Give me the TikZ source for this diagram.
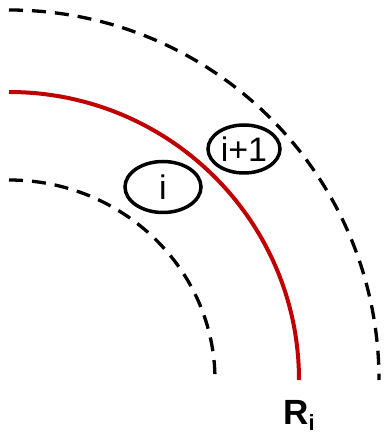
\documentclass[tikz,border=0pt]{standalone}
\usepackage{fontspec}
\setmainfont{Liberation Sans}
\usetikzlibrary{positioning,shapes.geometric}
\definecolor{shellred}{RGB}{192,0,0}

\begin{document}
\begin{tikzpicture}[x=1pt,y=1pt,
    shell/.style={draw=black,line width=3.3pt,dash pattern=on 14pt off 9pt},
    cell/.style={draw,ellipse,line width=3.5pt,inner sep=0pt,font=\fontsize{34}{34}\selectfont}]
  \useasboundingbox (0,0) rectangle (386,434);
  % common centre of the shells
  \coordinate (O) at (9,54);
  \draw[shell] (O) ++(0,200) arc[start angle=90,end angle=0,x radius=206,y radius=200];
  \draw[shell] (O) ++(0,370) arc[start angle=90,end angle=0,radius=370];
  \draw[shellred,line width=4pt] (O) ++(0,288) arc[start angle=90,end angle=0,x radius=290,y radius=288] coordinate (rEnd);
  % the two cells on either side of R_i
  \node[cell,minimum width=76pt,minimum height=51pt] (cellI) at (163,247) {i};
  \node[cell,minimum width=72pt,minimum height=48pt] (cellIp) at (244,285) {i+1};
  \node[inner sep=0pt,font=\fontsize{35}{35}\selectfont\bfseries] (rLabel) [below=20pt of rEnd]
    {R\raisebox{-6pt}{\fontsize{22}{22}\selectfont i}};
\end{tikzpicture}
\end{document}
